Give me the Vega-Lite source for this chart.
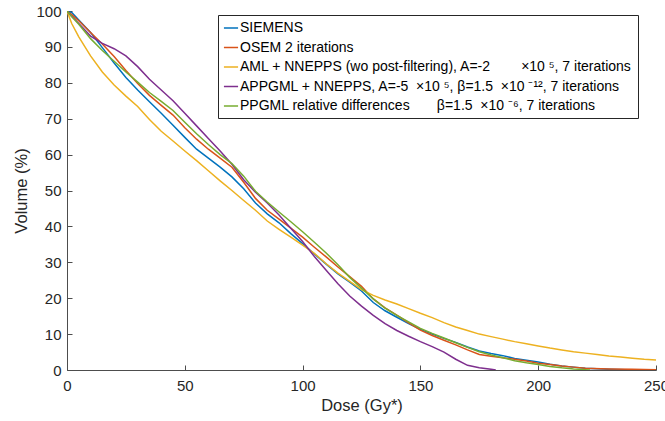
{
  "$schema": "https://vega.github.io/schema/vega-lite/v6.json",
  "width": 589,
  "height": 359,
  "autosize": {"type": "none"},
  "padding": {"left": 67, "top": 11, "right": 9, "bottom": 51},
  "background": "white",
  "config": {
    "view": {"stroke": null},
    "font": "Liberation Sans",
    "axis": {
      "grid": false,
      "domainColor": "#4d4d4d",
      "domainWidth": 1,
      "tickColor": "#4d4d4d",
      "tickWidth": 1,
      "tickSize": -5,
      "labelColor": "#262626",
      "labelFont": "Liberation Sans",
      "labelFontSize": 15,
      "titleColor": "#262626",
      "titleFont": "Liberation Sans",
      "titleFontSize": 16.5,
      "titleFontWeight": "normal"
    }
  },
  "data": {
    "values": [
      {"series": "SIEMENS", "dose": 0, "volume": 100},
      {"series": "SIEMENS", "dose": 2, "volume": 99.6},
      {"series": "SIEMENS", "dose": 5, "volume": 97.5},
      {"series": "SIEMENS", "dose": 10, "volume": 94},
      {"series": "SIEMENS", "dose": 15, "volume": 89.8},
      {"series": "SIEMENS", "dose": 20, "volume": 85.5},
      {"series": "SIEMENS", "dose": 25, "volume": 81.5},
      {"series": "SIEMENS", "dose": 30, "volume": 78},
      {"series": "SIEMENS", "dose": 35, "volume": 74.7},
      {"series": "SIEMENS", "dose": 40, "volume": 71.5},
      {"series": "SIEMENS", "dose": 45, "volume": 68.2},
      {"series": "SIEMENS", "dose": 50, "volume": 64.8},
      {"series": "SIEMENS", "dose": 55, "volume": 61.5},
      {"series": "SIEMENS", "dose": 60, "volume": 59},
      {"series": "SIEMENS", "dose": 65, "volume": 56.5},
      {"series": "SIEMENS", "dose": 70, "volume": 53.8},
      {"series": "SIEMENS", "dose": 75, "volume": 50.5},
      {"series": "SIEMENS", "dose": 80, "volume": 46.5},
      {"series": "SIEMENS", "dose": 85, "volume": 43.5},
      {"series": "SIEMENS", "dose": 90, "volume": 41},
      {"series": "SIEMENS", "dose": 95, "volume": 38},
      {"series": "SIEMENS", "dose": 100, "volume": 35.2},
      {"series": "SIEMENS", "dose": 105, "volume": 32.3},
      {"series": "SIEMENS", "dose": 110, "volume": 29.5},
      {"series": "SIEMENS", "dose": 115, "volume": 26.8},
      {"series": "SIEMENS", "dose": 120, "volume": 24.5},
      {"series": "SIEMENS", "dose": 125, "volume": 22},
      {"series": "SIEMENS", "dose": 130, "volume": 18.8},
      {"series": "SIEMENS", "dose": 135, "volume": 16.5},
      {"series": "SIEMENS", "dose": 140, "volume": 14.7},
      {"series": "SIEMENS", "dose": 145, "volume": 12.9},
      {"series": "SIEMENS", "dose": 150, "volume": 11.3},
      {"series": "SIEMENS", "dose": 155, "volume": 10},
      {"series": "SIEMENS", "dose": 160, "volume": 8.8},
      {"series": "SIEMENS", "dose": 165, "volume": 7.7},
      {"series": "SIEMENS", "dose": 170, "volume": 6.4},
      {"series": "SIEMENS", "dose": 175, "volume": 5.3},
      {"series": "SIEMENS", "dose": 180, "volume": 4.6},
      {"series": "SIEMENS", "dose": 185, "volume": 4},
      {"series": "SIEMENS", "dose": 190, "volume": 3.2},
      {"series": "SIEMENS", "dose": 195, "volume": 2.7},
      {"series": "SIEMENS", "dose": 200, "volume": 2.2},
      {"series": "SIEMENS", "dose": 205, "volume": 1.6},
      {"series": "SIEMENS", "dose": 210, "volume": 1.1},
      {"series": "SIEMENS", "dose": 215, "volume": 0.8},
      {"series": "SIEMENS", "dose": 220, "volume": 0.5},
      {"series": "SIEMENS", "dose": 230, "volume": 0.2},
      {"series": "SIEMENS", "dose": 240, "volume": 0},

      {"series": "OSEM", "dose": 0, "volume": 100},
      {"series": "OSEM", "dose": 2, "volume": 99},
      {"series": "OSEM", "dose": 5, "volume": 97.3},
      {"series": "OSEM", "dose": 10, "volume": 94},
      {"series": "OSEM", "dose": 15, "volume": 90.8},
      {"series": "OSEM", "dose": 20, "volume": 87.3},
      {"series": "OSEM", "dose": 25, "volume": 83.4},
      {"series": "OSEM", "dose": 30, "volume": 79.8},
      {"series": "OSEM", "dose": 35, "volume": 76.5},
      {"series": "OSEM", "dose": 40, "volume": 73.7},
      {"series": "OSEM", "dose": 45, "volume": 71},
      {"series": "OSEM", "dose": 50, "volume": 67.5},
      {"series": "OSEM", "dose": 55, "volume": 64.3},
      {"series": "OSEM", "dose": 60, "volume": 61.5},
      {"series": "OSEM", "dose": 65, "volume": 59},
      {"series": "OSEM", "dose": 70, "volume": 56.5},
      {"series": "OSEM", "dose": 75, "volume": 52.3},
      {"series": "OSEM", "dose": 80, "volume": 47.8},
      {"series": "OSEM", "dose": 85, "volume": 44.5},
      {"series": "OSEM", "dose": 90, "volume": 42},
      {"series": "OSEM", "dose": 95, "volume": 39.5},
      {"series": "OSEM", "dose": 100, "volume": 37},
      {"series": "OSEM", "dose": 105, "volume": 34.2},
      {"series": "OSEM", "dose": 110, "volume": 31.5},
      {"series": "OSEM", "dose": 115, "volume": 28.7},
      {"series": "OSEM", "dose": 120, "volume": 26},
      {"series": "OSEM", "dose": 125, "volume": 23.3},
      {"series": "OSEM", "dose": 130, "volume": 19.8},
      {"series": "OSEM", "dose": 135, "volume": 17.3},
      {"series": "OSEM", "dose": 140, "volume": 15.3},
      {"series": "OSEM", "dose": 145, "volume": 13.1},
      {"series": "OSEM", "dose": 150, "volume": 11.1},
      {"series": "OSEM", "dose": 155, "volume": 9.6},
      {"series": "OSEM", "dose": 160, "volume": 8.3},
      {"series": "OSEM", "dose": 165, "volume": 7},
      {"series": "OSEM", "dose": 170, "volume": 5.6},
      {"series": "OSEM", "dose": 175, "volume": 4.3},
      {"series": "OSEM", "dose": 180, "volume": 3.8},
      {"series": "OSEM", "dose": 185, "volume": 3.4},
      {"series": "OSEM", "dose": 190, "volume": 3},
      {"series": "OSEM", "dose": 195, "volume": 2.5},
      {"series": "OSEM", "dose": 200, "volume": 1.9},
      {"series": "OSEM", "dose": 205, "volume": 1.5},
      {"series": "OSEM", "dose": 210, "volume": 1.1},
      {"series": "OSEM", "dose": 215, "volume": 0.8},
      {"series": "OSEM", "dose": 220, "volume": 0.5},
      {"series": "OSEM", "dose": 230, "volume": 0.3},
      {"series": "OSEM", "dose": 240, "volume": 0.2},
      {"series": "OSEM", "dose": 250, "volume": 0.1},

      {"series": "AML", "dose": 0, "volume": 100},
      {"series": "AML", "dose": 2, "volume": 96.5},
      {"series": "AML", "dose": 5, "volume": 92.8},
      {"series": "AML", "dose": 10, "volume": 87.5},
      {"series": "AML", "dose": 15, "volume": 83},
      {"series": "AML", "dose": 20, "volume": 79.4},
      {"series": "AML", "dose": 25, "volume": 76.3},
      {"series": "AML", "dose": 30, "volume": 73.4},
      {"series": "AML", "dose": 35, "volume": 69.8},
      {"series": "AML", "dose": 40, "volume": 66.5},
      {"series": "AML", "dose": 45, "volume": 63.8},
      {"series": "AML", "dose": 50, "volume": 61},
      {"series": "AML", "dose": 55, "volume": 58.3},
      {"series": "AML", "dose": 60, "volume": 55.5},
      {"series": "AML", "dose": 65, "volume": 52.7},
      {"series": "AML", "dose": 70, "volume": 50},
      {"series": "AML", "dose": 75, "volume": 47.2},
      {"series": "AML", "dose": 80, "volume": 44.5},
      {"series": "AML", "dose": 85, "volume": 41.5},
      {"series": "AML", "dose": 90, "volume": 39.2},
      {"series": "AML", "dose": 95, "volume": 37},
      {"series": "AML", "dose": 100, "volume": 34.8},
      {"series": "AML", "dose": 105, "volume": 32.5},
      {"series": "AML", "dose": 110, "volume": 29.6},
      {"series": "AML", "dose": 115, "volume": 27},
      {"series": "AML", "dose": 120, "volume": 24.7},
      {"series": "AML", "dose": 125, "volume": 22.4},
      {"series": "AML", "dose": 130, "volume": 20.8},
      {"series": "AML", "dose": 135, "volume": 19.5},
      {"series": "AML", "dose": 140, "volume": 18.4},
      {"series": "AML", "dose": 145, "volume": 17.1},
      {"series": "AML", "dose": 150, "volume": 15.8},
      {"series": "AML", "dose": 155, "volume": 14.6},
      {"series": "AML", "dose": 160, "volume": 13.2},
      {"series": "AML", "dose": 165, "volume": 12},
      {"series": "AML", "dose": 170, "volume": 11},
      {"series": "AML", "dose": 175, "volume": 10},
      {"series": "AML", "dose": 180, "volume": 9.3},
      {"series": "AML", "dose": 185, "volume": 8.6},
      {"series": "AML", "dose": 190, "volume": 7.9},
      {"series": "AML", "dose": 195, "volume": 7.3},
      {"series": "AML", "dose": 200, "volume": 6.7},
      {"series": "AML", "dose": 205, "volume": 6.1},
      {"series": "AML", "dose": 210, "volume": 5.6},
      {"series": "AML", "dose": 215, "volume": 5.1},
      {"series": "AML", "dose": 220, "volume": 4.7},
      {"series": "AML", "dose": 225, "volume": 4.3},
      {"series": "AML", "dose": 230, "volume": 3.9},
      {"series": "AML", "dose": 235, "volume": 3.6},
      {"series": "AML", "dose": 240, "volume": 3.3},
      {"series": "AML", "dose": 245, "volume": 3},
      {"series": "AML", "dose": 250, "volume": 2.8},

      {"series": "APPGML", "dose": 0, "volume": 100},
      {"series": "APPGML", "dose": 2, "volume": 98.5},
      {"series": "APPGML", "dose": 5, "volume": 96.5},
      {"series": "APPGML", "dose": 10, "volume": 93},
      {"series": "APPGML", "dose": 15, "volume": 91},
      {"series": "APPGML", "dose": 20, "volume": 89.5},
      {"series": "APPGML", "dose": 25, "volume": 87.5},
      {"series": "APPGML", "dose": 30, "volume": 84.5},
      {"series": "APPGML", "dose": 35, "volume": 81},
      {"series": "APPGML", "dose": 40, "volume": 78},
      {"series": "APPGML", "dose": 45, "volume": 75},
      {"series": "APPGML", "dose": 50, "volume": 71.5},
      {"series": "APPGML", "dose": 55, "volume": 68},
      {"series": "APPGML", "dose": 60, "volume": 64.5},
      {"series": "APPGML", "dose": 65, "volume": 61},
      {"series": "APPGML", "dose": 70, "volume": 57.3},
      {"series": "APPGML", "dose": 75, "volume": 53},
      {"series": "APPGML", "dose": 80, "volume": 49.5},
      {"series": "APPGML", "dose": 85, "volume": 46.5},
      {"series": "APPGML", "dose": 90, "volume": 43.2},
      {"series": "APPGML", "dose": 95, "volume": 39.5},
      {"series": "APPGML", "dose": 100, "volume": 35.8},
      {"series": "APPGML", "dose": 105, "volume": 31.6},
      {"series": "APPGML", "dose": 110, "volume": 27.8},
      {"series": "APPGML", "dose": 115, "volume": 24},
      {"series": "APPGML", "dose": 120, "volume": 20.6},
      {"series": "APPGML", "dose": 125, "volume": 17.8},
      {"series": "APPGML", "dose": 130, "volume": 15.2},
      {"series": "APPGML", "dose": 135, "volume": 12.9},
      {"series": "APPGML", "dose": 140, "volume": 11},
      {"series": "APPGML", "dose": 145, "volume": 9.4},
      {"series": "APPGML", "dose": 150, "volume": 7.9},
      {"series": "APPGML", "dose": 155, "volume": 6.5},
      {"series": "APPGML", "dose": 160, "volume": 5},
      {"series": "APPGML", "dose": 165, "volume": 3},
      {"series": "APPGML", "dose": 170, "volume": 1.3},
      {"series": "APPGML", "dose": 175, "volume": 0.6},
      {"series": "APPGML", "dose": 180, "volume": 0.2},
      {"series": "APPGML", "dose": 182, "volume": 0},

      {"series": "PPGML", "dose": 0, "volume": 100},
      {"series": "PPGML", "dose": 2, "volume": 98.5},
      {"series": "PPGML", "dose": 5, "volume": 96.3},
      {"series": "PPGML", "dose": 10, "volume": 92.3},
      {"series": "PPGML", "dose": 15, "volume": 89},
      {"series": "PPGML", "dose": 20, "volume": 86},
      {"series": "PPGML", "dose": 25, "volume": 83},
      {"series": "PPGML", "dose": 30, "volume": 80.2},
      {"series": "PPGML", "dose": 35, "volume": 77.3},
      {"series": "PPGML", "dose": 40, "volume": 74.8},
      {"series": "PPGML", "dose": 45, "volume": 72.3},
      {"series": "PPGML", "dose": 50, "volume": 69},
      {"series": "PPGML", "dose": 55, "volume": 65.8},
      {"series": "PPGML", "dose": 60, "volume": 62.8},
      {"series": "PPGML", "dose": 65, "volume": 60},
      {"series": "PPGML", "dose": 70, "volume": 57.5},
      {"series": "PPGML", "dose": 75, "volume": 54},
      {"series": "PPGML", "dose": 80, "volume": 49.8},
      {"series": "PPGML", "dose": 85, "volume": 46.8},
      {"series": "PPGML", "dose": 90, "volume": 44},
      {"series": "PPGML", "dose": 95, "volume": 41.3},
      {"series": "PPGML", "dose": 100, "volume": 38.5},
      {"series": "PPGML", "dose": 105, "volume": 35.6},
      {"series": "PPGML", "dose": 110, "volume": 32.6},
      {"series": "PPGML", "dose": 115, "volume": 29.3},
      {"series": "PPGML", "dose": 120, "volume": 25.8},
      {"series": "PPGML", "dose": 125, "volume": 22.8},
      {"series": "PPGML", "dose": 130, "volume": 19.8},
      {"series": "PPGML", "dose": 135, "volume": 17.2},
      {"series": "PPGML", "dose": 140, "volume": 15.2},
      {"series": "PPGML", "dose": 145, "volume": 13.4},
      {"series": "PPGML", "dose": 150, "volume": 11.6},
      {"series": "PPGML", "dose": 155, "volume": 10.2},
      {"series": "PPGML", "dose": 160, "volume": 8.9},
      {"series": "PPGML", "dose": 165, "volume": 7.6},
      {"series": "PPGML", "dose": 170, "volume": 6.3},
      {"series": "PPGML", "dose": 175, "volume": 5.1},
      {"series": "PPGML", "dose": 180, "volume": 4.2},
      {"series": "PPGML", "dose": 185, "volume": 3.4},
      {"series": "PPGML", "dose": 190, "volume": 2.6},
      {"series": "PPGML", "dose": 195, "volume": 2},
      {"series": "PPGML", "dose": 200, "volume": 1.5},
      {"series": "PPGML", "dose": 205, "volume": 1},
      {"series": "PPGML", "dose": 210, "volume": 0.6},
      {"series": "PPGML", "dose": 215, "volume": 0.3},
      {"series": "PPGML", "dose": 220, "volume": 0.1},
      {"series": "PPGML", "dose": 222, "volume": 0}
    ]
  },
  "mark": {"type": "line", "strokeWidth": 1.5, "clip": true},
  "encoding": {
    "x": {
      "field": "dose", "type": "quantitative",
      "scale": {"domain": [0, 250], "nice": false, "zero": false},
      "axis": {"values": [0, 50, 100, 150, 200, 250], "title": "Dose (Gy*)", "labelPadding": 13, "titlePadding": 4, "labelFlush": false}
    },
    "y": {
      "field": "volume", "type": "quantitative",
      "scale": {"domain": [0, 100], "nice": false},
      "axis": {"values": [0, 10, 20, 30, 40, 50, 60, 70, 80, 90, 100], "title": "Volume (%)", "labelPadding": 11, "titlePadding": 6, "labelFlush": false}
    },
    "color": {
      "field": "series", "type": "nominal",
      "scale": {
        "domain": ["SIEMENS", "OSEM", "AML", "APPGML", "PPGML"],
        "range": ["#0072BD", "#D95319", "#EDB120", "#7E2F8E", "#77AC30"]
      },
      "legend": {
        "orient": "none",
        "legendX": 151,
        "legendY": 4,
        "title": null,
        "symbolType": "stroke",
        "symbolStrokeWidth": 1.5,
        "symbolSize": 200,
        "labelFontSize": 14,
        "labelFont": "Liberation Sans",
        "labelColor": "#000000",
        "labelLimit": 0,
        "labelOffset": 1,
        "strokeColor": "#262626",
        "fillColor": "white",
        "padding": 5,
        "rowPadding": 4.5,
        "labelExpr": "datum.label == 'SIEMENS' ? 'SIEMENS' : datum.label == 'OSEM' ? 'OSEM 2 iterations' : datum.label == 'AML' ? 'AML + NNEPPS (wo post-filtering), A=-2\u00a0\u00a0\u00a0\u00a0\u00a0\u00a0\u00a0\u00a0×10\u00a0⁵, 7 iterations\u00a0\u00a0\u00a0' : datum.label == 'APPGML' ? 'APPGML + NNEPPS, A=-5 \u00a0×10\u00a0⁵, β=1.5 \u00a0×10\u00a0⁻¹², 7 iterations' : 'PPGML relative differences\u00a0\u00a0\u00a0\u00a0\u00a0\u00a0\u00a0β=1.5 \u00a0×10\u00a0⁻⁶, 7 iterations'"
      }
    }
  }
}
